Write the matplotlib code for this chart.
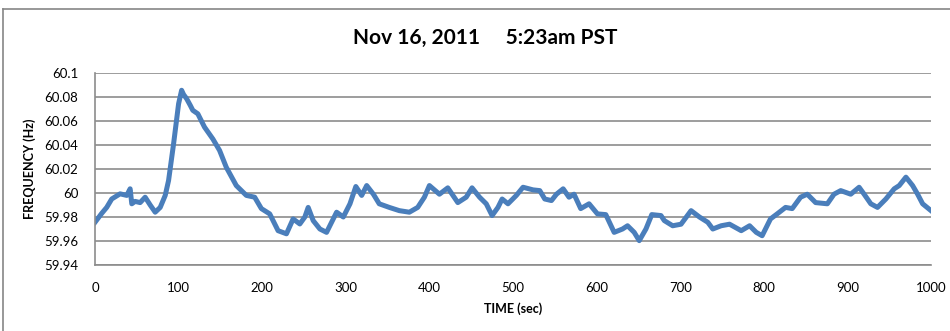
import matplotlib
matplotlib.use("Agg")
import matplotlib.pyplot as plt
from matplotlib.lines import Line2D

# readings taken off the trace (seconds, Hz)
time_sec = [
    0, 8, 14, 20, 30, 38, 42, 44, 48, 54, 60, 66, 72, 78, 84, 88, 94, 100, 103.6,
    106, 109.6, 114, 117, 123, 131, 141, 149, 157, 169, 181, 191, 199, 209, 219,
    229, 237, 245, 251, 255, 261, 269, 277, 289, 297, 305, 312, 319, 325, 333,
    340, 352, 364, 376, 386, 394, 400, 412, 422, 434, 444, 451, 460, 468, 475,
    482, 487, 494, 504, 512, 524, 532, 538, 546, 552, 560, 567, 573, 581, 591,
    601, 611, 621, 631, 637, 645, 651, 659, 666, 677, 681, 691, 701, 713, 723,
    733, 739, 749, 759, 773, 783, 791, 798, 808, 816, 826, 834, 844, 852, 862,
    876, 884, 892, 904, 914, 920, 928, 936, 946, 956, 962, 970, 978, 984, 990,
    1000,
]
freq_hz = [
    59.9756, 59.983, 59.988, 59.995, 59.9993, 59.998, 60.0035, 59.991, 59.993,
    59.992, 59.9965, 59.990, 59.984, 59.988, 59.998, 60.0104, 60.041, 60.0744,
    60.0856, 60.082, 60.0786, 60.073, 60.0689, 60.066, 60.0549, 60.045, 60.0355,
    60.0215, 60.0062, 59.998, 59.9965, 59.987, 59.9826, 59.9686, 59.966, 59.9784,
    59.9742, 59.980, 59.988, 59.977, 59.970, 59.9672, 59.984, 59.980, 59.991,
    60.0054, 59.998, 60.0062, 59.999, 59.991, 59.988, 59.9853, 59.984, 59.988,
    59.9965, 60.0062, 59.999, 60.0043, 59.992, 59.9965, 60.0043, 59.9965, 59.991,
    59.9812, 59.988, 59.995, 59.991, 59.998, 60.0048, 60.0026, 60.002, 59.995,
    59.9937, 59.999, 60.0035, 59.9965, 59.999, 59.987, 59.991, 59.9826, 59.982,
    59.9672, 59.970, 59.9727, 59.9672, 59.9603, 59.970, 59.982, 59.9812, 59.977,
    59.9727, 59.974, 59.9853, 59.980, 59.9756, 59.970, 59.9727, 59.974, 59.9686,
    59.9727, 59.9672, 59.9644, 59.9784, 59.9826, 59.988, 59.987, 59.9965, 59.999,
    59.992, 59.991, 59.999, 60.002, 59.999, 60.0048, 59.999, 59.991, 59.988,
    59.995, 60.0035, 60.0062, 60.0132, 60.0062, 59.999, 59.991, 59.9853,
]

x_ticks = list(range(0, 1001, 100))
y_ticks = [59.94, 59.96, 59.98, 60.0, 60.02, 60.04, 60.06, 60.08, 60.1]
y_tick_labels = ["59.94", "59.96", "59.98", "60", "60.02", "60.04", "60.06", "60.08", "60.1"]

plt.rcParams["font.family"] = ["Lato", "DejaVu Sans"]

W, H = 950, 331
fig = plt.figure(figsize=(W / 100, H / 100), dpi=100)
ax = fig.add_axes([95 / W, 1 - 265 / H, (931 - 95) / W, (265 - 73) / H])

ax.plot(time_sec, freq_hz, color="#4a7ebb", linewidth=3.6, solid_joinstyle="round")

ax.set_xlim(0, 1000)
ax.set_ylim(59.94, 60.1)
ax.set_xticks(x_ticks)
ax.set_yticks(y_ticks)
ax.set_yticklabels(y_tick_labels)
ax.tick_params(axis="both", length=0, labelsize=9.5, colors="#000000")
ax.tick_params(axis="y", pad=12)
ax.tick_params(axis="x", pad=12)
ax.grid(axis="y", color="#8c8c8c", linewidth=1.2)
ax.set_axisbelow(True)
for side in ["top", "right"]:
    ax.spines[side].set_visible(False)
ax.spines["left"].set_color("#8c8c8c")
ax.spines["bottom"].set_color("#8c8c8c")
ax.spines["left"].set_linewidth(1.2)
ax.spines["bottom"].set_linewidth(1.2)

ax.set_xlabel("TIME (sec)", fontsize=9, fontweight="bold", labelpad=6)
ax.set_ylabel("FREQUENCY (Hz)", fontsize=9, fontweight="bold", labelpad=6)

fig.text(485 / W, 1 - 38 / H, "Nov 16, 2011     5:23am PST", ha="center", va="center",
         fontsize=15, fontweight="bold")

# outer chart border (top and left edges show in the crop)
fig.add_artist(Line2D([3 / W, 1], [1 - 9 / H, 1 - 9 / H], color="#868686", linewidth=1.2))
fig.add_artist(Line2D([3 / W, 3 / W], [0, 1 - 9 / H], color="#868686", linewidth=1.2))

fig.savefig("out.png", dpi=100)
